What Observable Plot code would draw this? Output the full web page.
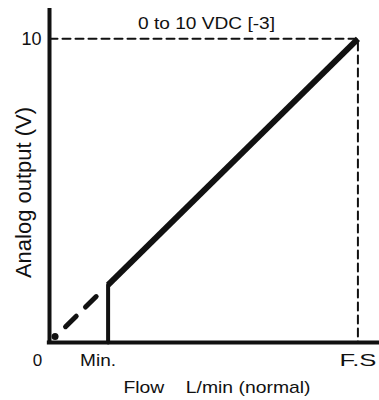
<!DOCTYPE html>
<html>
<head>
<meta charset="utf-8">
<script src="https://cdn.jsdelivr.net/npm/d3@7"></script>
<script src="https://cdn.jsdelivr.net/npm/@observablehq/plot@0.6"></script>
<style>
  body { margin: 0; background: #fff; }
  #chart svg { display: block; font-family: "Liberation Sans", Arial, sans-serif; }
  #chart svg text { white-space: pre; }
</style>
</head>
<body>
<div id="chart"></div>
<script>
// Texts
const title = "0 to 10 VDC [-3]";
const xLabel = "Flow    L/min (normal)";
const yLabel = "Analog output (V)";

// Flow is expressed in % of full scale, output in volts
const solidFlow = [19, 100];
const solidOut = [1.9, 10];
const minFlow = [19, 19];
const minOut = [0, 1.9];
const dashFlow = [5.2, 15.6];
const dashOut = [0.52, 1.56];
const guideFlow = [0, 100, 100];
const guideOut = [10, 10, 0];
const zeroFlow = [1.8];
const zeroOut = [0.2];

// Tick labels
const xTickValues = [0, 19, 100];
const xTickLabels = ["0", "Min.", "F.S"];
const yTickValues = [10];
const yTickLabels = ["10"];

// horizontal nudges of the x tick labels
const xTickShift = [-12, -10, 0];

const pts = (xs, ys) => xs.map((x, i) => ({flow: x, out: ys[i]}));
const ink = "#111";

const chart = Plot.plot({
  width: 379,
  height: 400,
  marginLeft: 49,
  marginRight: 0,
  marginTop: 8,
  marginBottom: 58,
  x: {domain: [0, 107], axis: null},
  y: {domain: [0, 11], axis: null},
  style: {background: "#fff", color: ink, fontSize: "17px"},
  marks: [
    // reference guides to full scale
    Plot.line(pts(guideFlow, guideOut), {x: "flow", y: "out", stroke: ink, strokeWidth: 2, strokeDasharray: "8,5"}),
    // extrapolation below the minimum flow
    Plot.line(pts(dashFlow, dashOut), {x: "flow", y: "out", stroke: ink, strokeWidth: 5, strokeDasharray: "15,13"}),
    // step at minimum flow
    Plot.line(pts(minFlow, minOut), {x: "flow", y: "out", stroke: ink, strokeWidth: 4}),
    // output line
    Plot.line(pts(solidFlow, solidOut), {x: "flow", y: "out", stroke: ink, strokeWidth: 6, strokeLinecap: "butt"}),
    Plot.dot(pts(zeroFlow, zeroOut), {x: "flow", y: "out", r: 3.5, fill: ink}),
    // axis lines
    Plot.ruleX([0], {y1: 0, y2: 11, stroke: ink, strokeWidth: 4}),
    Plot.ruleY([0], {x1: -0.7, x2: 107, stroke: ink, strokeWidth: 4}),
    // tick labels
    ...xTickValues.map((v, i) =>
      Plot.text([v], {x: d => d, y: 0, text: () => xTickLabels[i], dx: xTickShift[i], dy: 18.5, fill: ink})
    ),
    Plot.text(yTickValues, {x: 0, y: d => d, text: (d, i) => yTickLabels[i], textAnchor: "end", dx: -8, fill: ink, fontSize: 18}),
    // titles
    Plot.text([title], {frameAnchor: "top", dx: -8, dy: 8, fill: ink}),
    Plot.text([xLabel], {frameAnchor: "bottom", dx: 2.5, dy: 50, fill: ink}),
    Plot.text([yLabel], {frameAnchor: "left", textAnchor: "middle", rotate: -90, dx: -26, dy: 17, fill: ink, fontSize: 22})
  ]
});

// the lettering is set slightly wide
const textWidths = new Map([
  [title, 137], [xLabel, 187], ["Min.", 36], ["F.S", 37]
]);
d3.select(chart).selectAll("text").each(function () {
  const w = textWidths.get(this.textContent);
  if (w) d3.select(this).attr("textLength", w).attr("lengthAdjust", "spacingAndGlyphs");
});

document.getElementById("chart").append(chart);
</script>
</body>
</html>
